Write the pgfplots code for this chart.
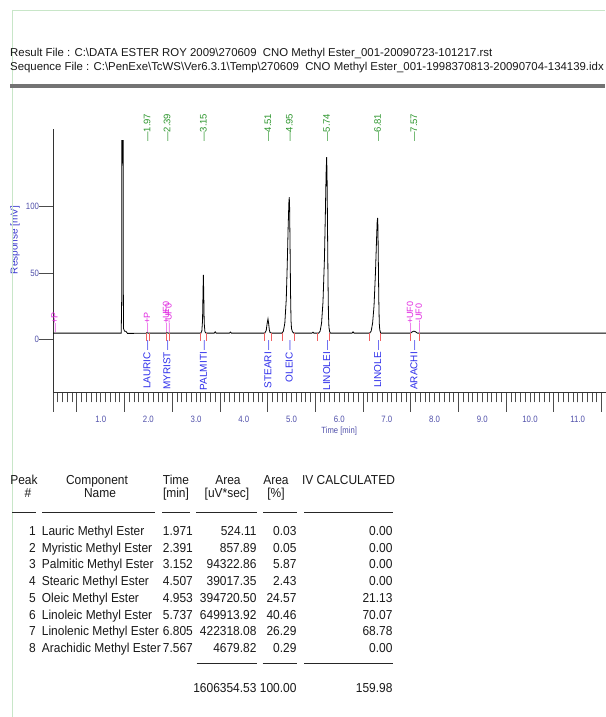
\documentclass[border=0pt]{standalone}
\usepackage{fontspec}
\setmainfont{Liberation Sans}
\newfontfamily\narrowfont{Liberation Sans}[FakeStretch=0.92]
\newfontfamily\tickfont{Liberation Sans}[FakeStretch=0.85]
\usepackage{pgfplots}
\pgfplotsset{compat=1.18}

\definecolor{tickblue}{RGB}{80,80,170}
\definecolor{labblue}{RGB}{55,55,205}
\definecolor{compblue}{RGB}{45,45,235}
\definecolor{rtgreen}{RGB}{45,150,45}
\definecolor{evmag}{RGB}{225,40,225}
\definecolor{markred}{RGB}{240,95,95}
\definecolor{framegreen}{RGB}{200,230,200}
\definecolor{txt}{RGB}{25,25,25}

\newcommand{\trow}[7]{%
 \node[anchor=base east] at (36,#1) {#2};
 \node[anchor=base west] at (41.7,#1) {#3};
 \node[anchor=base west] at (162.7,#1) {#4};
 \node[anchor=base east] at (256.7,#1) {#5};
 \node[anchor=base east] at (296.7,#1) {#6};
 \node[anchor=base east] at (392.7,#1) {#7};}

\begin{document}
\begin{tikzpicture}
\useasboundingbox (0,0) rectangle (605pt,717pt);
\fill[white] (0,0) rectangle (605pt,717pt);

\begin{axis}[
  at={(53pt,325pt)}, anchor=south west,
  x=47.7pt, y=1.323pt,
  xmin=0, xmax=11.6, ymin=-40, ymax=158.5,
  axis x line=bottom, axis y line=left,
  axis line style={-, draw=black!80, line width=0.9pt},
  clip=false, tick align=outside,
  major tick length=20pt, minor tick length=10.5pt,
  tick style={draw=black!70, line width=0.8pt},
  xtick={0,0.5,1.5,2.5,3.5,4.5,5.5,6.5,7.5,8.5,9.5,10.5,11.5},
  xticklabels={},
  minor xtick={0.1,0.2,...,11.6},
  extra x ticks={1,2,3,4,5,6,7,8,9,10,11},
  extra x tick labels={1.0,2.0,3.0,4.0,5.0,6.0,7.0,8.0,9.0,10.0,11.0},
  extra x tick style={major tick length=10.5pt, tick label style={yshift=-10pt}},
  ytick=\empty,
  minor ytick={10,20,...,140},
  extra y ticks={0,50,100},
  extra y tick labels={0,50,100},
  extra y tick style={major tick length=14pt, tick label style={xshift=3.5pt}},
  tick label style={font=\tickfont\fontsize{9.2}{10}\selectfont, text=tickblue},
  /pgf/number format/assume math mode=true,
]
% chromatogram trace
\addplot[black, line width=0.8pt] coordinates {
(0,4.5) (1.430,4.5) (1.440,30) (1.444,150) (1.470,150) (1.474,40) (1.478,8)
(1.50,6) (1.53,5.8) (1.56,4.3) (1.60,4.3) (1.95,4.4) (1.97,4.9) (1.99,4.5)
(2.37,4.5) (2.39,4.9) (2.41,4.5)
(3.10,4.5) (3.12,6) (3.135,14) (3.145,35) (3.152,48.6) (3.16,35) (3.17,12) (3.185,5.5) (3.21,4.5)
(3.38,4.5) (3.40,5.5) (3.42,4.5) (3.70,4.5) (3.72,5.3) (3.74,4.5)
(4.44,4.5) (4.47,6.5) (4.49,12) (4.507,15.3) (4.52,12) (4.535,7) (4.55,5) (4.58,4.5)
(4.80,4.5) (4.83,6) (4.86,12) (4.89,30) (4.91,55) (4.93,85) (4.945,103) (4.953,107.3)
(4.96,100) (4.97,70) (4.98,35) (4.99,14) (5.00,8) (5.02,5.5) (5.05,4.5)
(5.43,4.5) (5.45,5.2) (5.47,4.5)
(5.57,4.5) (5.60,6) (5.63,12) (5.66,28) (5.69,60) (5.71,95) (5.725,125) (5.737,137.6)
(5.745,125) (5.755,85) (5.765,45) (5.775,18) (5.785,9) (5.80,5.5) (5.82,4.5)
(6.27,4.5) (6.29,5.5) (6.31,4.5)
(6.64,4.5) (6.67,6) (6.70,12) (6.73,25) (6.76,50) (6.78,72) (6.795,88) (6.805,91.5)
(6.812,85) (6.82,60) (6.83,30) (6.84,12) (6.85,7) (6.87,4.5)
(7.50,4.5) (7.53,5.5) (7.567,6) (7.60,5.5) (7.64,4.5) (11.6,4.5)
};
% peak start/end markers
\addplot[markred, only marks, mark=|, mark size=4pt, mark options={line width=0.9pt}] coordinates {
(1.964,1.7) (2.02,1.7) (2.37,1.7) (2.44,1.7) (3.096,1.7) (3.22,1.7) (4.44,1.7) (4.585,1.7)
(4.815,1.7) (5.052,1.7) (5.549,1.7) (5.79,1.7) (6.63,1.7) (6.855,1.7) (7.485,1.7) (7.68,1.7)
};
% retention time labels
\foreach \t/\l in {1.971/1.97, 2.391/2.39, 3.152/3.15, 4.507/4.51, 4.953/4.95, 5.737/5.74, 6.805/6.81, 7.567/7.57}{
  \edef\temp{\noexpand\node[rotate=90, anchor=west, inner sep=0pt, text=rtgreen, font=\noexpand\fontsize{9.5}{10}\noexpand\selectfont] at (axis cs:\t,149) {---\l};}
  \temp
}
% component labels
\foreach \t/\l in {1.971/LAURIC, 2.391/MYRIST, 3.152/PALMITI, 4.507/STEARI, 4.953/OLEIC, 5.737/LINOLEI, 6.805/LINOLE, 7.567/ARACHI}{
  \edef\temp{\noexpand\node[rotate=90, anchor=east, inner sep=0pt, text=compblue, font=\noexpand\fontsize{10}{11}\noexpand\selectfont] at (axis cs:\t,-1.0) {\l\noexpand\kern1.5pt---};}
  \temp
}
% event labels
\foreach \t/\l in {0.03/+P, 1.971/+P, 2.37/+UF0, 2.42/-UF0, 7.485/+UF0, 7.67/-UF0}{
  \edef\temp{\noexpand\node[rotate=90, anchor=west, inner sep=0pt, text=evmag, font=\noexpand\fontsize{9}{10}\noexpand\selectfont] at (axis cs:\t,4.5) {---\l};}
  \temp
}
\node[rotate=90, text=labblue, font=\fontsize{10}{11}\selectfont] at (axis cs:-0.797,75) {Response [mV]};
\node[text=tickblue, font=\tickfont\fontsize{9}{10}\selectfont] at (axis cs:6,-40) [yshift=-39pt] {Time [min]};
\end{axis}

\begin{scope}[x=1pt,y=-1pt,shift={(0pt,717pt)}, every node/.style={inner sep=0pt, text=txt}]
 \draw[framegreen, line width=0.8pt] (12,10) -- (605,10);
 \draw[framegreen, line width=0.8pt] (12,10) -- (12,717);
 \node[anchor=base west, font=\fontsize{11.4}{13}\selectfont] at (10,57)
   {Result File : C:\textbackslash DATA ESTER ROY 2009\textbackslash 270609~~CNO Methyl Ester\_001-20090723-101217.rst};
 \node[anchor=base west, font=\fontsize{11.4}{13}\selectfont] at (10,71)
   {Sequence File : C:\textbackslash PenExe\textbackslash TcWS\textbackslash Ver6.3.1\textbackslash Temp\textbackslash 270609~~CNO Methyl Ester\_001-1998370813-20090704-134139.idx};
 \draw[black!55, line width=3.5pt] (10,86) -- (605,86);

 \begin{scope}[font=\narrowfont\fontsize{13}{15}\selectfont]
 \node[anchor=base] at (24,484.7) {Peak};
 \node[anchor=base] at (28,497.7) {\#};
 \node[anchor=base] at (97,484.7) {Component};
 \node[anchor=base] at (100,497.7) {Name};
 \node[anchor=base] at (176,484.7) {Time};
 \node[anchor=base] at (176,497.7) {[min]};
 \node[anchor=base] at (228,484.7) {Area};
 \node[anchor=base] at (227,497.7) {[uV*sec]};
 \node[anchor=base] at (276,484.7) {Area};
 \node[anchor=base] at (276,497.7) {[\%]};
 \node[anchor=base] at (348.5,484.7) {IV CALCULATED};
 \foreach \a/\b in {12/36, 42/155, 162/190, 196/257, 263/297, 304/393}{
   \draw[black!85, line width=1.1pt] (\a,512.3) -- (\b,512.3);
 }
 \trow{535.4}{1}{Lauric Methyl Ester}{1.971}{524.11}{0.03}{0.00}
 \trow{552.1}{2}{Myristic Methyl Ester}{2.391}{857.89}{0.05}{0.00}
 \trow{568.9}{3}{Palmitic Methyl Ester}{3.152}{94322.86}{5.87}{0.00}
 \trow{585.6}{4}{Stearic Methyl Ester}{4.507}{39017.35}{2.43}{0.00}
 \trow{602.4}{5}{Oleic Methyl Ester}{4.953}{394720.50}{24.57}{21.13}
 \trow{619.1}{6}{Linoleic Methyl Ester}{5.737}{649913.92}{40.46}{70.07}
 \trow{635.9}{7}{Linolenic Methyl Ester}{6.805}{422318.08}{26.29}{68.78}
 \trow{652.6}{8}{Arachidic Methyl Ester}{7.567}{4679.82}{0.29}{0.00}
 \foreach \a/\b in {196.7/256.7, 262.7/296.7, 304/392.7}{
   \draw[black!85, line width=1.1pt] (\a,663.3) -- (\b,663.3);
 }
 \node[anchor=base east] at (256.7,693) {1606354.53};
 \node[anchor=base east] at (296.7,693) {100.00};
 \node[anchor=base east] at (392.7,693) {159.98};
 \end{scope}
\end{scope}
\end{tikzpicture}
\end{document}
